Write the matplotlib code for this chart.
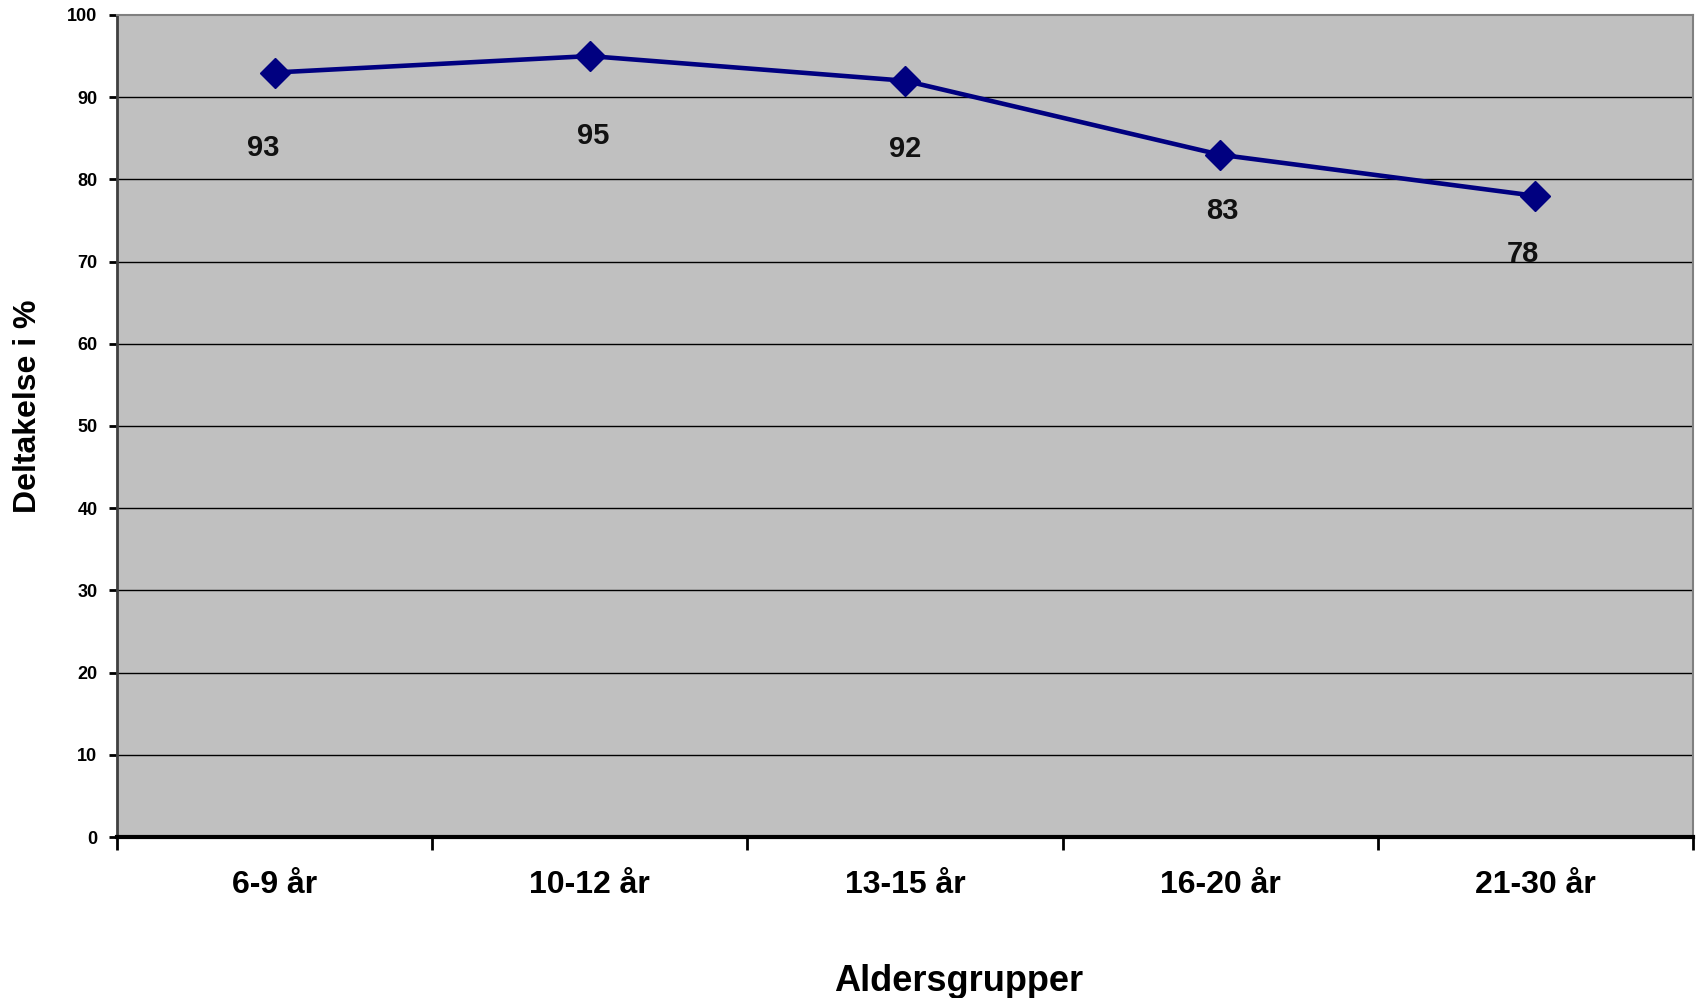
import matplotlib
matplotlib.use('Agg')
import matplotlib.pyplot as plt
import numpy as np

# Data
age_groups = ['6-9 år', '10-12 år', '13-15 år', '16-20 år', '21-30 år']
participation = [93, 95, 92, 83, 78]
y_ticks = list(range(0, 101, 10))

# label placement (pixel offsets from each marker), labels were hand-placed in the original
label_offsets = [(-11, -75), (3, -80), (0, -68), (2, -56), (-12, -58)]

plt.rcParams['font.family'] = ['Liberation Sans', 'DejaVu Sans']

fig = plt.figure(figsize=(16.97, 9.98), dpi=100)
ax = fig.add_axes([0.0689, 0.1613, 0.9287, 0.8237])
ax.set_facecolor('#C0C0C0')

x = np.arange(len(age_groups))
ax.plot(x, participation, color='#000080', linewidth=3.3, marker='D',
        markersize=15, markerfacecolor='#000080', markeredgecolor='#000080', zorder=3)

for xi, val, (dx, dy) in zip(x, participation, label_offsets):
    ax.annotate(str(val), (xi, val), xytext=(dx, dy), textcoords='offset pixels',
                ha='center', va='center', fontsize=21, fontweight='bold', color='#111111')

ax.set_xlim(-0.5, len(age_groups) - 0.5)
ax.set_ylim(0, 100)

# y axis
ax.set_yticks(y_ticks)
ax.set_yticklabels([str(t) for t in y_ticks], fontsize=13, fontweight='bold')
ax.tick_params(axis='y', direction='out', length=6, width=2, pad=8, color='black')
for t in y_ticks[1:-1]:
    ax.axhline(t, color='black', linewidth=1, zorder=1)

# x axis: ticks at category boundaries, labels at centres
ax.set_xticks(np.arange(-0.5, len(age_groups), 1.0))
ax.set_xticklabels([])
ax.set_xticks(x, minor=True)
ax.set_xticklabels(age_groups, minor=True, fontsize=23, fontweight='bold')
ax.tick_params(axis='x', which='major', direction='out', length=9, width=2, color='black')
ax.tick_params(axis='x', which='minor', length=0, pad=24)

for side in ['top', 'right']:
    ax.spines[side].set_color('#808080')
    ax.spines[side].set_linewidth(1.5)
ax.spines['left'].set_color('#404040')
ax.spines['left'].set_linewidth(2)
ax.spines['bottom'].set_color('black')
ax.spines['bottom'].set_linewidth(3)

ax.set_xlabel('Aldersgrupper', fontsize=26, fontweight='bold')
ax.xaxis.set_label_coords(0.534, -0.154)
ax.set_ylabel('Deltakelse i %', fontsize=23, fontweight='bold')
ax.yaxis.set_label_coords(-0.047, 0.524)

fig.savefig('out.png', dpi=100, facecolor='white')
plt.close(fig)
